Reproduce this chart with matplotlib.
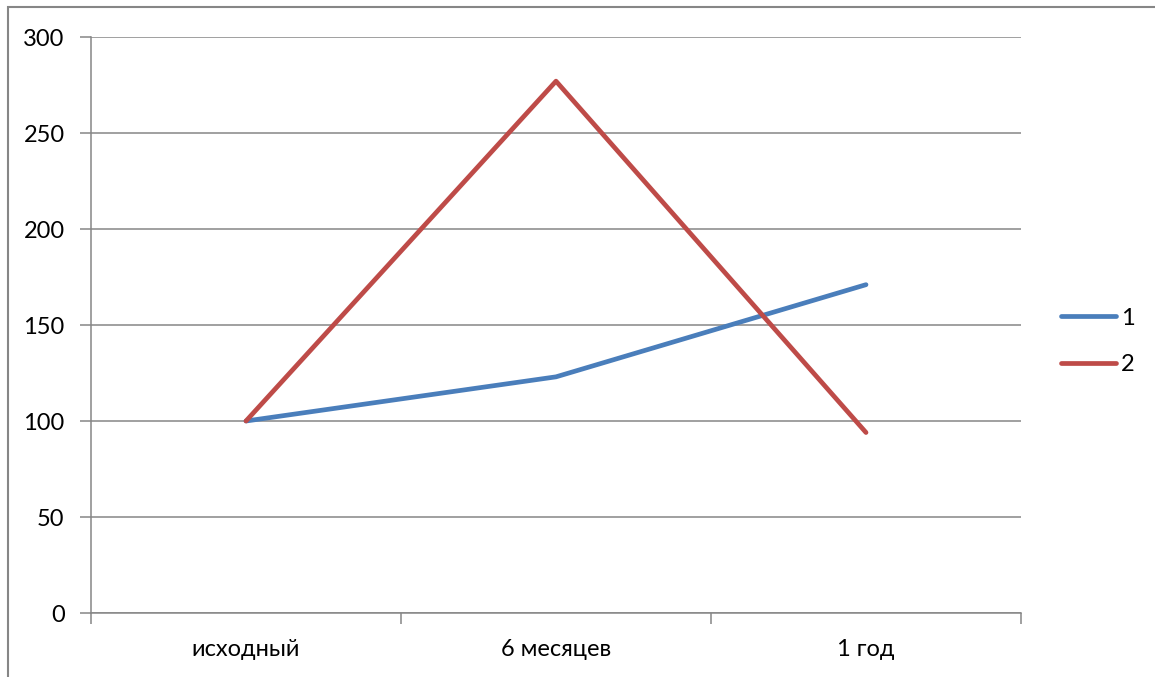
import matplotlib
matplotlib.use("Agg")
import matplotlib.pyplot as plt
from matplotlib.patches import Rectangle

categories = ["исходный", "6 месяцев", "1 год"]
series_1 = [100, 123, 171]
series_2 = [100, 277, 94]
series_names = ["1", "2"]
yticks = [0, 50, 100, 150, 200, 250, 300]

W, H = 1155, 677
fig = plt.figure(figsize=(W / 100, H / 100), dpi=100)
plt.rcParams["font.family"] = ["Lato", "DejaVu Sans"]
FS = 17

# outer chart frame (right/bottom run off the picture)
fig.patches.append(Rectangle((8 / W, -0.05), 2, 1 - 7 / H + 0.05, transform=fig.transFigure,
                             fill=False, edgecolor="#868686", linewidth=1.5))

ax = fig.add_axes([91 / W, 1 - 613 / H, 930 / W, 576 / H])
x = list(range(len(categories)))
ax.plot(x, series_1, color="#4A7EBB", lw=3.4, solid_capstyle="round", solid_joinstyle="round", label=series_names[0])
ax.plot(x, series_2, color="#BE4B48", lw=3.4, solid_capstyle="round", solid_joinstyle="round", label=series_names[1])

ax.set_xlim(-0.5, len(categories) - 0.5)
ax.set_ylim(0, 300)
ax.set_yticks(yticks)
ax.yaxis.grid(True, color="#868686", lw=1.1)
ax.set_axisbelow(True)
for s in ["top", "right"]:
    ax.spines[s].set_visible(False)
for s in ["left", "bottom"]:
    ax.spines[s].set_color("#868686")
    ax.spines[s].set_linewidth(1.1)

ax.set_xticks(x)
ax.set_xticklabels(categories)
ax.tick_params(axis="x", length=0, pad=19, labelsize=FS)
ax.set_xticks([-0.5, 0.5, 1.5, 2.5], minor=True)
ax.tick_params(axis="x", which="minor", length=8, color="#868686", width=1.1)
ax.tick_params(axis="y", length=8, color="#868686", width=1.1, labelsize=FS, pad=11)

leg = fig.legend(loc="center left", bbox_to_anchor=(1061 / W, 1 - 341.5 / H), frameon=False, fontsize=FS,
                 borderpad=0, borderaxespad=0, handlelength=2.35, handletextpad=0.2, labelspacing=1.1)

fig.savefig("out.png", dpi=100)
